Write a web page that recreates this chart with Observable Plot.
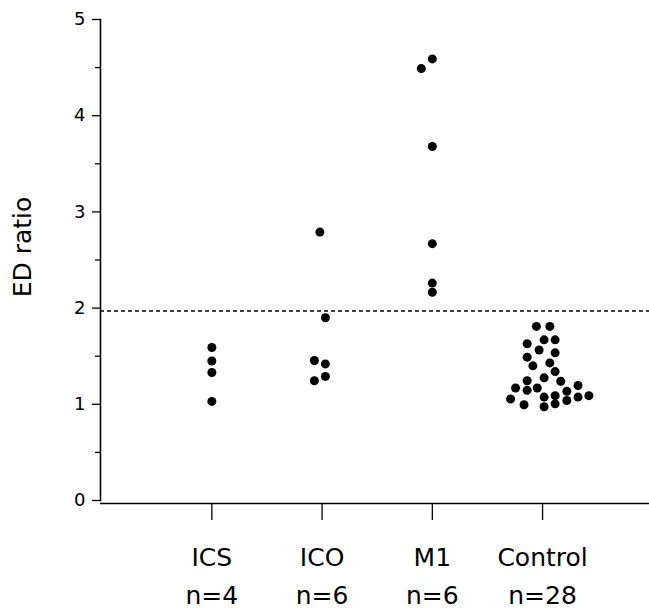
<!DOCTYPE html>
<html><head><meta charset="utf-8">
<script src="https://cdn.jsdelivr.net/npm/d3@7"></script>
<script src="https://cdn.jsdelivr.net/npm/@observablehq/plot@0.6"></script>
<style>body{margin:0;background:#fff}</style>
</head><body><div id="chart"></div>
<script>
const groups = ["ICS", "ICO", "M1", "Control"];
const groupCounts = [4, 6, 6, 28];

const icsValues = [1.59, 1.45, 1.33, 1.03];
const icsJitter = [0, 0, 0, 0];
const icoValues = [2.79, 1.90, 1.455, 1.42, 1.29, 1.245];
const icoJitter = [-0.02, 0.03, -0.07, 0.03, 0.03, -0.07];
const m1Values = [4.59, 4.49, 3.68, 2.67, 2.26, 2.165];
const m1Jitter = [0, -0.1, 0, 0, 0, 0];
const controlValues = [1.81, 1.81, 1.63, 1.67, 1.67, 1.565, 1.49, 1.535, 1.40, 1.43,
  1.34, 1.275, 1.245, 1.24, 1.17, 1.145, 1.17, 1.195, 1.135, 1.055,
  0.995, 1.075, 0.975, 1.09, 1.005, 1.04, 1.075, 1.09];
const controlJitter = [-0.056, 0.066, -0.14, 0.014, 0.114, -0.031, -0.14, 0.114, -0.088, 0.066,
  0.114, 0.014, -0.14, 0.165, -0.245, -0.14, -0.048, 0.322, 0.22, -0.29,
  -0.168, 0.014, 0.014, 0.114, 0.114, 0.22, 0.322, 0.42];

const yMajorTicks = [0, 1, 2, 3, 4, 5];
const yMinorTicks = [0.5, 1.5, 2.5, 3.5, 4.5];
const thresholdValue = 1.97;
const yLabel = "ED ratio";

const series = [icsValues, icoValues, m1Values, controlValues];
const jitters = [icsJitter, icoJitter, m1Jitter, controlJitter];
const points = series.flatMap((vals, g) => vals.map((v, i) => ({group: groups[g], pos: g + jitters[g][i], value: v})));
const groupLabels = groups.map((name, i) => ({pos: i, text: `${name}\nn=${groupCounts[i]}`}));

const font = "'DejaVu Sans', sans-serif";
const chart = Plot.plot({
  width: 649, height: 609,
  marginLeft: 100, marginRight: 0, marginTop: 19, marginBottom: 109,
  style: {fontFamily: font, background: "white", color: "black"},
  x: {type: "linear", domain: [-1.01, 3.97], axis: null},
  y: {domain: [0, 5], axis: null},
  marks: [
    Plot.ruleY([thresholdValue], {stroke: "black", strokeWidth: 1.3, strokeDasharray: "4,3"}),
    Plot.frame({anchor: "left", stroke: "black", strokeWidth: 1.6}),
    Plot.ruleY([0], {dy: 3, stroke: "black", strokeWidth: 1.3}),
    Plot.axisY({ticks: yMajorTicks, tickSize: 8, tickPadding: 7, fontSize: 18, tickFormat: d => d, label: null, strokeWidth: 1.3}),
    Plot.axisY({ticks: yMinorTicks, tickSize: 5, tickFormat: () => "", label: null, strokeWidth: 1.3}),
    Plot.axisX({ticks: groups.map((_, i) => i), tickSize: 17, dy: 3, tickFormat: () => "", label: null, strokeWidth: 1.3}),
    Plot.text(groupLabels, {x: "pos", text: "text", frameAnchor: "bottom", lineAnchor: "top", dy: 39, fontSize: 25, lineHeight: 1.52, fill: "black"}),
    Plot.dot(points, {x: "pos", y: "value", r: 4.5, fill: "black"}),
    Plot.text([yLabel], {frameAnchor: "left", textAnchor: "middle", dx: -78, dy: -13, rotate: -90, fontSize: 25, text: d => d, fill: "black"})
  ]
});
document.getElementById("chart").append(chart);
</script>
</body></html>
